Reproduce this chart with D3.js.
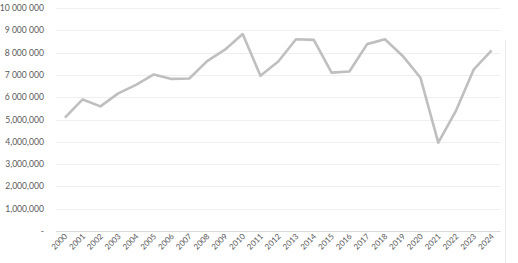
<!DOCTYPE html>
<html lang="en">
<head>
    <meta charset="UTF-8">
    <title>Chart</title>
    <script src="https://cdnjs.cloudflare.com/ajax/libs/d3/7.8.5/d3.min.js"></script>
    <style>
        body { margin: 0; background: #fff; }
        text { font-family: Lato, "Open Sans", sans-serif; fill: #595959; }
    </style>
</head>
<body>
    <svg width="518" height="263"></svg>
    <script>
        "use strict";

        const years = ["2000","2001","2002","2003","2004","2005","2006","2007","2008","2009","2010","2011","2012",
                       "2013","2014","2015","2016","2017","2018","2019","2020","2021","2022","2023","2024"];
        const values = [5080000, 5900000, 5590000, 6170000, 6550000, 7020000, 6820000, 6840000, 7620000, 8130000,
                        8830000, 6960000, 7600000, 8600000, 8570000, 7100000, 7150000, 8380000, 8600000, 7850000,
                        6870000, 3960000, 5400000, 7250000, 8100000];
        const yTicks = [0, 1e6, 2e6, 3e6, 4e6, 5e6, 6e6, 7e6, 8e6, 9e6, 1e7];
        const yLabels = ["-", "1,000,000", "2,000,000", "3,000,000", "4,000,000", "5,000,000",
                         "6 000 000", "7 000 000", "8 000 000", "9 000 000", "10 000 000"];

        const svg = d3.select("svg");
        const plotLeft = 56, plotRight = 500.5, plotTop = 8, plotBottom = 231;

        const x = d3.scaleBand().domain(years).range([plotLeft, plotRight]);
        const y = d3.scaleLinear().domain([0, 1e7]).range([plotBottom, plotTop]);

        // gridlines
        svg.append("g")
            .selectAll("line")
            .data(yTicks.slice(1))
            .enter()
            .append("line")
            .attr("x1", plotLeft).attr("x2", plotRight)
            .attr("y1", d => Math.round(y(d)) + 0.5)
            .attr("y2", d => Math.round(y(d)) + 0.5)
            .style("stroke", "#efefef");

        // axis line
        svg.append("line")
            .attr("x1", plotLeft).attr("x2", plotRight)
            .attr("y1", Math.round(y(0)) + 0.5).attr("y2", Math.round(y(0)) + 0.5)
            .style("stroke", "#d9d9d9");

        // y labels
        svg.append("g")
            .selectAll("text")
            .data(yTicks)
            .enter()
            .append("text")
            .attr("x", 44)
            .attr("y", d => y(d))
            .attr("dy", "0.35em")
            .attr("text-anchor", "end")
            .style("font-size", "8.6px")
            .text((d, i) => yLabels[i]);

        // x labels
        svg.append("g")
            .selectAll("text")
            .data(years)
            .enter()
            .append("text")
            .attr("text-anchor", "end")
            .style("font-size", "8px")
            .attr("transform", d => `translate(${x(d) + x.bandwidth() / 2 + 3},${plotBottom + 6}) rotate(-45)`)
            .text(d => d);

        // line
        const line = d3.line()
            .x((d, i) => x(years[i]) + x.bandwidth() / 2)
            .y(d => y(d));

        svg.append("path")
            .datum(values)
            .attr("d", line)
            .attr("fill", "none")
            .attr("stroke", "#bfbfbf")
            .attr("stroke-width", 2.6)
            .attr("stroke-linejoin", "round");

        // neighbouring panel border
        svg.append("line")
            .attr("x1", 505.5).attr("x2", 505.5)
            .attr("y1", 40).attr("y2", 263)
            .style("stroke", "#e8e8e8");
    </script>
</body>
</html>
